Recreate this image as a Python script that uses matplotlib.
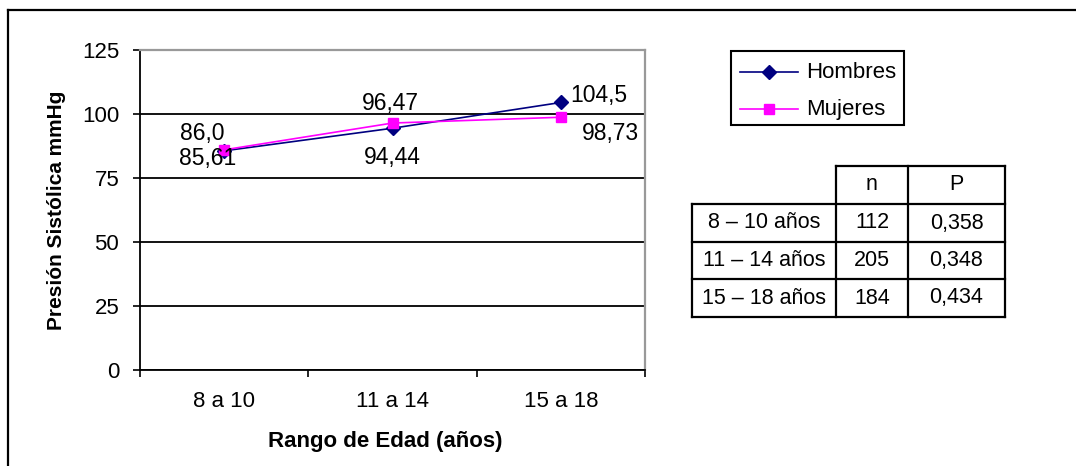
import matplotlib
matplotlib.use("Agg")
import matplotlib.pyplot as plt
from matplotlib.lines import Line2D
from matplotlib.patches import Rectangle

plt.rcParams['font.family'] = ['Liberation Sans', 'DejaVu Sans']

# Data
categories = ["8 a 10", "11 a 14", "15 a 18"]
hombres = [85.61, 94.44, 104.5]
mujeres = [86.0, 96.47, 98.73]
hombres_labels = ["85,61", "94,44", "104,5"]
mujeres_labels = ["86,0", "96,47", "98,73"]

table_header = ["", "n", "P"]
table_ranges = ["8 – 10 años", "11 – 14 años", "15 – 18 años"]
table_n = ["112", "205", "184"]
table_p = ["0,358", "0,348", "0,434"]

W, H = 1076, 466
DPI = 100
fig = plt.figure(figsize=(W / DPI, H / DPI), dpi=DPI)


def fx(x):
    return x / W


def fy(y):
    return 1 - y / H


# Outer frame (top and left edges)
fig.add_artist(Line2D([fx(8), fx(W)], [fy(10), fy(10)], color="black", lw=1.6))
fig.add_artist(Line2D([fx(8), fx(8)], [fy(10), fy(H)], color="black", lw=1.6))

# Plot area
ax = fig.add_axes([fx(140), fy(370), (645 - 140) / W, (370 - 50) / H])
x = list(range(len(categories)))
ax.plot(x, hombres, color="#000080", lw=1.2, marker="D", markersize=7.5,
        label="Hombres", zorder=3)
ax.plot(x, mujeres, color="#FF00FF", lw=1.2, marker="s", markersize=7.5,
        label="Mujeres", zorder=4)

ax.set_xlim(-0.5, len(categories) - 0.5)
ax.set_ylim(0, 125)
ax.set_yticks([0, 25, 50, 75, 100, 125])
ax.yaxis.grid(True, color="black", lw=1.3)
ax.set_axisbelow(True)

# Category ticks on the boundaries, labels at the centres
ax.set_xticks([i - 0.5 for i in range(len(categories) + 1)])
ax.set_xticklabels([])
ax.set_xticks(x, minor=True)
ax.set_xticklabels(categories, minor=True)
ax.tick_params(axis="x", which="major", direction="out", length=5, width=1.2)
ax.tick_params(axis="x", which="minor", length=0, pad=15, labelsize=16)
ax.tick_params(axis="y", direction="out", length=5, width=1.2, pad=10, labelsize=16)

for side in ("left", "bottom"):
    ax.spines[side].set_color("black")
    ax.spines[side].set_linewidth(1.3)
for side in ("top", "right"):
    ax.spines[side].set_color("#999999")
    ax.spines[side].set_linewidth(1.6)

# Value labels
h_offsets = [(-17, -8), (0, -29), (38, 7)]
m_offsets = [(-22, 16), (-2, 20), (50, -16)]
for i in x:
    ax.annotate(hombres_labels[i], (i, hombres[i]), xytext=h_offsets[i],
                textcoords="offset pixels", ha="center", va="center",
                fontsize=16.5, zorder=5)
    ax.annotate(mujeres_labels[i], (i, mujeres[i]), xytext=m_offsets[i],
                textcoords="offset pixels", ha="center", va="center",
                fontsize=16.5, zorder=5)

# Axis titles
fig.text(fx(385), fy(441), "Rango de Edad (años)", ha="center", va="center",
         fontsize=16, fontweight="bold")
fig.text(fx(57), fy(210), "Presión Sistólica mmHg", ha="center", va="center",
         rotation=90, fontsize=15, fontweight="bold")

# Legend
fig.add_artist(Rectangle((fx(731), fy(125)), (904 - 731) / W, (125 - 51) / H,
                         fill=False, edgecolor="black", lw=1.5))
fig.add_artist(Line2D([fx(740), fx(798)], [fy(72), fy(72)], color="#000080", lw=1.2))
fig.add_artist(Line2D([fx(769)], [fy(72)], color="#000080", marker="D",
                      markersize=7.5, linestyle="none"))
fig.add_artist(Line2D([fx(740), fx(798)], [fy(109), fy(109)], color="#FF00FF", lw=1.2))
fig.add_artist(Line2D([fx(769)], [fy(109)], color="#FF00FF", marker="s",
                      markersize=7.5, linestyle="none"))
fig.text(fx(806), fy(72), "Hombres", ha="left", va="center", fontsize=16)
fig.text(fx(806), fy(109), "Mujeres", ha="left", va="center", fontsize=16)

# Statistics table
col_edges = [692, 836, 908, 1005]
row_edges = [166, 204, 242, 279, 317]
tlw = 1.6
# horizontal rules
fig.add_artist(Line2D([fx(col_edges[1]), fx(col_edges[3])],
                      [fy(row_edges[0])] * 2, color="black", lw=tlw))
for yy in row_edges[1:]:
    fig.add_artist(Line2D([fx(col_edges[0]), fx(col_edges[3])],
                          [fy(yy)] * 2, color="black", lw=tlw))
# vertical rules
fig.add_artist(Line2D([fx(col_edges[0])] * 2, [fy(row_edges[1]), fy(row_edges[-1])],
                      color="black", lw=tlw))
for xx in col_edges[1:]:
    fig.add_artist(Line2D([fx(xx)] * 2, [fy(row_edges[0]), fy(row_edges[-1])],
                          color="black", lw=tlw))

rows = [table_header] + [[r, n, p] for r, n, p in zip(table_ranges, table_n, table_p)]
for ri, row in enumerate(rows):
    yc = (row_edges[ri] + row_edges[ri + 1]) / 2
    for ci, txt in enumerate(row):
        xc = (col_edges[ci] + col_edges[ci + 1]) / 2
        fig.text(fx(xc), fy(yc), txt, ha="center", va="center", fontsize=15.5)

fig.savefig("out.png", dpi=DPI)
